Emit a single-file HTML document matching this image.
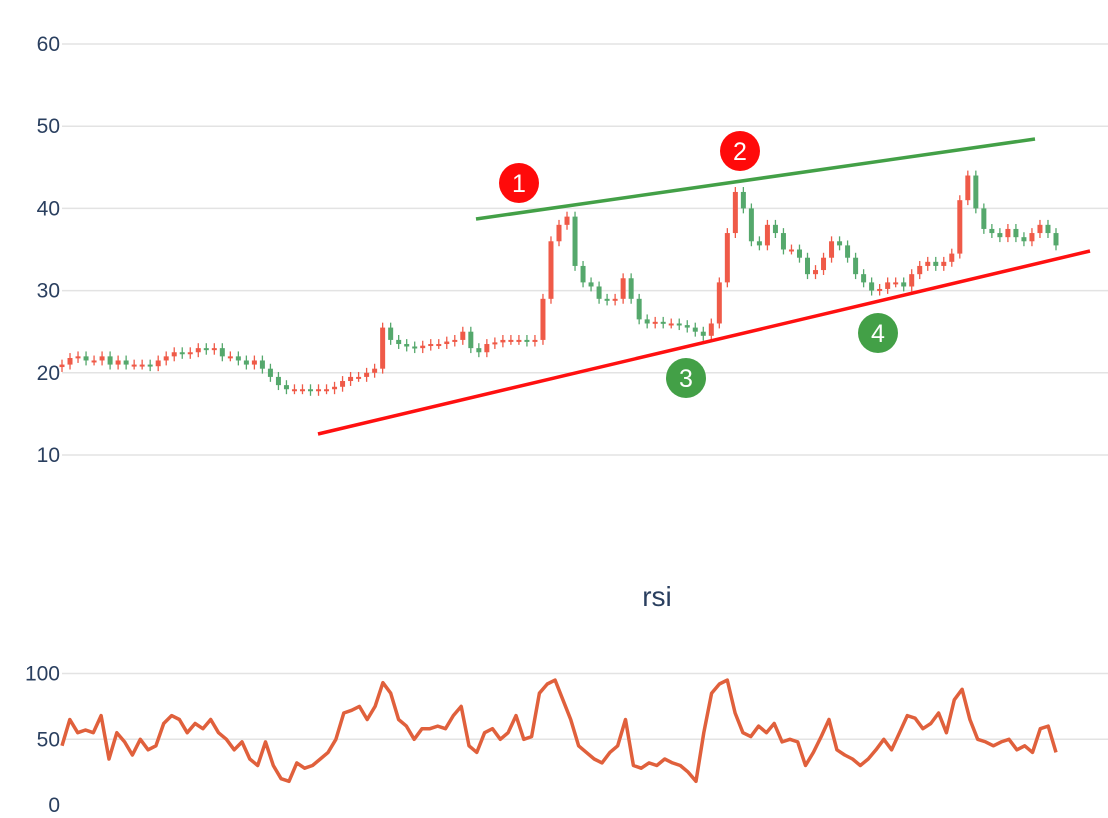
<!DOCTYPE html>
<html><head><meta charset="utf-8"><style>
body{margin:0;background:#fff;}
svg{display:block;font-family:"Liberation Sans",sans-serif;}
</style></head><body>
<svg id="c" width="1108" height="818"></svg>
<script>
const closes=[21,21.8,22,21.5,21.5,22,21,21.5,21,21,21,20.8,21.5,22,22.5,22.3,22.5,23,22.8,23,22,22,21.5,21,21.5,20.5,19.5,18.5,18,18,18,17.8,18,18,18.3,19,19.5,19.5,20,20.5,25.5,24,23.5,23.2,23,23.3,23.5,23.5,23.8,24,25,23,22.5,23.5,23.7,24,24,24,23.8,24,29,36,38,39,33,31,30.5,29,28.8,29,31.5,29,26.5,26,26.2,26,26,25.8,25.5,25,24.5,26,31,37,42,40,36,35.5,38,37,35,35,34,32,32.5,34,36,35.5,34,32,31,30,30.2,31,31,30.5,32,33,33.5,33,33.5,34.5,41,44,40,37.5,37,36.5,37.5,36.5,36,37,38,37,35.5];
const rsi=[45,65,55,57,55,68,35,55,48,38,50,42,45,62,68,65,55,62,58,65,55,50,42,48,35,30,48,30,20,18,32,28,30,35,40,50,70,72,75,65,75,93,85,65,60,50,58,58,60,58,68,75,45,40,55,58,50,55,68,50,52,85,92,95,80,65,45,40,35,32,40,45,65,30,28,32,30,35,32,30,25,18,55,85,92,95,70,55,52,60,55,62,48,50,48,30,40,52,65,42,38,35,30,35,42,50,42,55,68,66,58,62,70,55,80,88,65,50,48,45,48,50,42,45,40,58,60,40];
const priceTicks=[10,20,30,40,50,60];
const rsiTicks=[0,50,100];
const NS="http://www.w3.org/2000/svg";
const svg=document.getElementById('c');
function el(t,a,p){const e=document.createElementNS(NS,t);for(const k in a)e.setAttribute(k,a[k]);(p||svg).appendChild(e);return e;}
const yP=v=>455-(v-10)*8.22;
const yR=v=>805-v*1.315;
const xI=(i,n)=>62+i*(1056-62)/(n-1);
priceTicks.forEach(t=>{
 const g=el('line',{x1:62,x2:1108,y1:yP(t),y2:yP(t),stroke:'#e3e3e3','stroke-width':1.5});
 
 const l=el('text',{x:60,y:yP(t)+7,'text-anchor':'end','font-size':21,fill:'#2a3f5f'});l.textContent=t;
 
});
rsiTicks.forEach(t=>{
 if(t>0){const g=el('line',{x1:62,x2:1108,y1:yR(t),y2:yR(t),stroke:'#e3e3e3','stroke-width':1.5});
 }
 const l=el('text',{x:60,y:yR(t)+7,'text-anchor':'end','font-size':21,fill:'#2a3f5f'});l.textContent=t;
 
});
const n=closes.length;
closes.forEach((c,i)=>{
 const o=i?closes[i-1]:c-0.3;
 const up=c>=o;const col=up?'#ef5a48':'#55a86c';
 const x=xI(i,n);const hi=Math.max(o,c)+0.6,lo=Math.min(o,c)-0.6;
 const w=el('line',{x1:x,x2:x,y1:yP(hi),y2:yP(lo),stroke:col,'stroke-width':1.3});
 
 const top=yP(Math.max(o,c)),h=Math.max(2,yP(Math.min(o,c))-top);
 const b=el('rect',{x:x-2.5,y:top,width:5,height:h,fill:col});
 
});
const rl=el('line',{x1:476,y1:219,x2:1035,y2:139,stroke:'#43a047','stroke-width':3.5});

const sl=el('line',{x1:318,y1:434,x2:1090,y2:251,stroke:'#ff1010','stroke-width':3.5});

[[519,183,'1','#ff0a0a'],[740,151,'2','#ff0a0a'],[686,378,'3','#43a047'],[878,333,'4','#43a047']].forEach(m=>{
 const c=el('circle',{cx:m[0],cy:m[1],r:20,fill:m[3]});
 
 const t=el('text',{x:m[0],y:m[1]+9,'text-anchor':'middle','font-size':25,fill:'#fff'});t.textContent=m[2];
 
});
const tt=el('text',{x:657,y:606,'text-anchor':'middle','font-size':28,fill:'#2a3f5f'});tt.textContent='rsi';

const pts=rsi.map((v,i)=>xI(i,rsi.length).toFixed(1)+','+yR(v).toFixed(1)).join(' ');
const pl=el('polyline',{points:pts,fill:'none',stroke:'#e0603c','stroke-width':3.5,'stroke-linejoin':'round'});

</script>
</body></html>
